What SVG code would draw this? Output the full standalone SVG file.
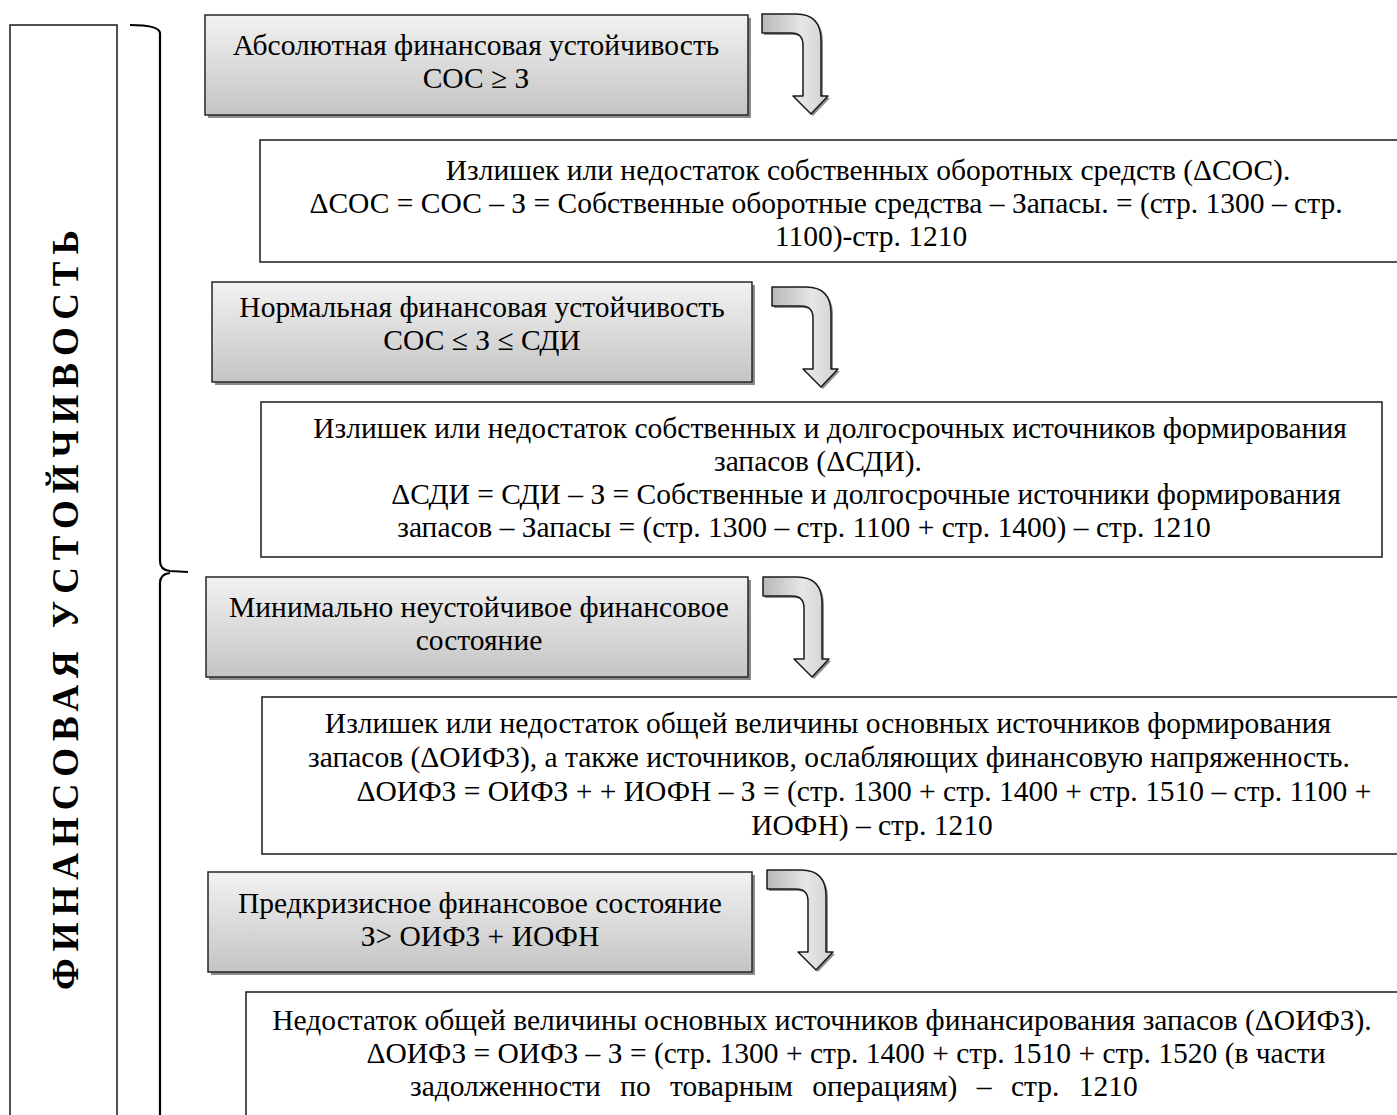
<svg xmlns="http://www.w3.org/2000/svg" width="1397" height="1115" viewBox="0 0 1397 1115">
<style>
  .t { font-family: "Liberation Serif", "Times New Roman", serif; font-size: 29.5px; fill: #000; text-anchor: middle; }
  .ts { text-anchor: start; }
  .gbox { fill: url(#gg); stroke: #262626; stroke-width: 1.5; }
  .shadow { fill: #5a5a5a; opacity: 0.7; }
  .wbox { fill: #fff; stroke: #1a1a1a; stroke-width: 1.5; }
  .arr { fill: url(#ag); stroke: #1a1a1a; stroke-width: 1.5; stroke-linejoin: round; }
  .arrsh { fill: #444; opacity: 0.6; }
  .vt { font-family: "Liberation Serif", "Times New Roman", serif; font-size: 37px; font-weight: bold; fill: #000; }
  .brace { fill: none; stroke: #000; stroke-width: 2.2; }
</style>
<defs>
  <linearGradient id="gg" x1="0" y1="0" x2="0" y2="1">
    <stop offset="0" stop-color="#f2f2f2"/>
    <stop offset="1" stop-color="#c4c4c4"/>
  </linearGradient>
  <linearGradient id="ag" x1="0" y1="0" x2="1" y2="0">
    <stop offset="0" stop-color="#b8b8b8"/>
    <stop offset="0.6" stop-color="#e6e6e6"/>
    <stop offset="1" stop-color="#d0d0d0"/>
  </linearGradient>
  <path id="arrowShape" d="M0 0 L34 0 Q59 0 59 26 L59 82 L66 82 L49 100 L31 82 L41 82 L41 31 Q41 19 29 19 L0 19 Z"/>
</defs>

<g id="left-panel">
  <rect x="10" y="25" width="107" height="1100" fill="#fff" stroke="#1a1a1a" stroke-width="1.5"/>
  <text class="vt" transform="translate(78,990) rotate(-90)" textLength="760" lengthAdjust="spacing">ФИНАНСОВАЯ УСТОЙЧИВОСТЬ</text>
</g>

<g id="brace">
  <path class="brace" d="M130 25 Q159 25 160 33 L160 561 Q160 570 170 571 L188 572 M170 573 Q160 574 160 583 L160 1120"/>
</g>

<g id="connectors">
  <g id="arrow1" transform="translate(762,14)">
    <use href="#arrowShape" class="arrsh" x="2" y="2"/>
    <use href="#arrowShape" class="arr"/>
  </g>
  <g id="arrow2" transform="translate(772,287)">
    <use href="#arrowShape" class="arrsh" x="2" y="2"/>
    <use href="#arrowShape" class="arr"/>
  </g>
  <g id="arrow3" transform="translate(763,577)">
    <use href="#arrowShape" class="arrsh" x="2" y="2"/>
    <use href="#arrowShape" class="arr"/>
  </g>
  <g id="arrow4" transform="translate(767,870)">
    <use href="#arrowShape" class="arrsh" x="2" y="2"/>
    <use href="#arrowShape" class="arr"/>
  </g>
</g>

<g id="node1">
  <rect class="shadow" x="208" y="18" width="543" height="100"/>
  <rect class="gbox" x="205" y="15" width="543" height="100"/>
  <text class="t" x="476" y="55">Абсолютная финансовая устойчивость</text>
  <text class="t" x="476" y="88">СОС ≥ З</text>
</g>

<g id="node2">
  <rect class="wbox" x="260" y="140" width="1160" height="122"/>
  <text class="t" x="868" y="180">Излишек или недостаток собственных оборотных средств (ΔСОС).</text>
  <text class="t" x="826" y="213">ΔСОС = СОС – З = Собственные оборотные средства – Запасы. = (стр. 1300 – стр.</text>
  <text class="t" x="871" y="246">1100)-стр. 1210</text>
</g>

<g id="node3">
  <rect class="shadow" x="215" y="285" width="540" height="100"/>
  <rect class="gbox" x="212" y="282" width="540" height="100"/>
  <text class="t" x="482" y="317">Нормальная финансовая устойчивость</text>
  <text class="t" x="482" y="350">СОС ≤ З ≤ СДИ</text>
</g>

<g id="node4">
  <rect class="wbox" x="261" y="402" width="1121" height="155"/>
  <text class="t" x="830" y="438">Излишек или недостаток собственных и долгосрочных источников формирования</text>
  <text class="t" x="818" y="471">запасов (ΔСДИ).</text>
  <text class="t" x="866" y="504">ΔСДИ = СДИ – З = Собственные и долгосрочные источники формирования</text>
  <text class="t" x="804" y="537">запасов – Запасы = (стр. 1300 – стр. 1100 + стр. 1400) – стр. 1210</text>
</g>

<g id="node5">
  <rect class="shadow" x="209" y="580" width="542" height="100"/>
  <rect class="gbox" x="206" y="577" width="542" height="100"/>
  <text class="t" x="479" y="617">Минимально неустойчивое финансовое</text>
  <text class="t" x="479" y="650">состояние</text>
</g>

<g id="node6">
  <rect class="wbox" x="262" y="697" width="1160" height="157"/>
  <text class="t" x="828" y="733">Излишек или недостаток общей величины основных источников формирования</text>
  <text class="t" x="829" y="767">запасов (ΔОИФЗ), а также источников, ослабляющих финансовую напряженность.</text>
  <text class="t" x="864" y="801">ΔОИФЗ = ОИФЗ + + ИОФН – З = (стр. 1300 + стр. 1400 + стр. 1510 – стр. 1100 +</text>
  <text class="t" x="872" y="835">ИОФН) – стр. 1210</text>
</g>

<g id="node7">
  <rect class="shadow" x="211" y="875" width="544" height="100"/>
  <rect class="gbox" x="208" y="872" width="544" height="100"/>
  <text class="t" x="480" y="913">Предкризисное финансовое состояние</text>
  <text class="t" x="480" y="946">З&gt; ОИФЗ + ИОФН</text>
</g>

<g id="node8">
  <rect class="wbox" x="246" y="992" width="1170" height="140"/>
  <text class="t" x="822" y="1030">Недостаток общей величины основных источников финансирования запасов (ΔОИФЗ).</text>
  <text class="t" x="846" y="1063">ΔОИФЗ = ОИФЗ – З = (стр. 1300 + стр. 1400 + стр. 1510 + стр. 1520 (в части</text>
  <text class="t ts" x="410" y="1096" word-spacing="12">задолженности по товарным операциям) – стр. 1210</text>
</g>
</svg>
